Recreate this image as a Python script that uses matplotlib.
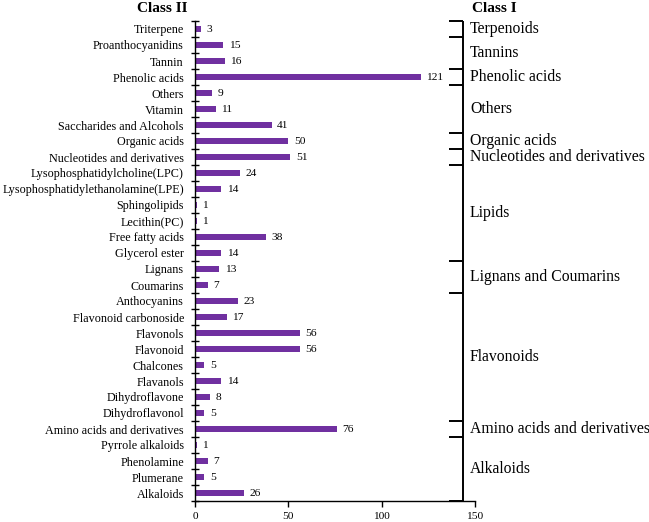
import matplotlib
matplotlib.use("Agg")
import matplotlib.pyplot as plt
import numpy as np

plt.rcParams['font.family'] = ['Liberation Serif', 'DejaVu Serif']

categories = [
    "Triterpene", "Proanthocyanidins", "Tannin", "Phenolic acids", "Others",
    "Vitamin", "Saccharides and Alcohols", "Organic acids",
    "Nucleotides and derivatives", "Lysophosphatidylcholine(LPC)",
    "Lysophosphatidylethanolamine(LPE)", "Sphingolipids", "Lecithin(PC)",
    "Free fatty acids", "Glycerol ester", "Lignans", "Coumarins",
    "Anthocyanins", "Flavonoid carbonoside", "Flavonols", "Flavonoid",
    "Chalcones", "Flavanols", "Dihydroflavone", "Dihydroflavonol",
    "Amino acids and derivatives", "Pyrrole alkaloids", "Phenolamine",
    "Plumerane", "Alkaloids",
]
values = [3, 15, 16, 121, 9, 11, 41, 50, 51, 24, 14, 1, 1, 38, 14, 13, 7,
          23, 17, 56, 56, 5, 14, 8, 5, 76, 1, 7, 5, 26]

group_names = ["Terpenoids", "Tannins", "Phenolic acids", "Others",
               "Organic acids", "Nucleotides and derivatives", "Lipids",
               "Lignans and Coumarins", "Flavonoids",
               "Amino acids and derivatives", "Alkaloids"]
group_sizes = [1, 2, 1, 3, 1, 1, 6, 2, 8, 1, 4]

xticks = [0, 50, 100, 150]

W, H = 649, 522
fig = plt.figure(figsize=(W / 100, H / 100), dpi=100)
ax = fig.add_axes([195 / W, 1 - 501 / H, 280 / W, 480 / H])

n = len(categories)
y = np.arange(n)
color = "#7030A0"
ax.barh(y, values, height=0.42, color=color)
ax.set_ylim(n - 0.5, -0.5)
ax.set_xlim(0, 150)

for yi, v in zip(y, values):
    ax.annotate(str(v), (v, yi), xytext=(4, 0), textcoords="offset points",
                va="center", ha="left", fontsize=8.2)

ax.set_yticks(y)
ax.set_yticklabels(categories, fontsize=8.7)
ax.tick_params(axis="y", which="major", length=0, pad=8)
ax.set_yticks(np.arange(n + 1) - 0.5, minor=True)
ax.tick_params(axis="y", which="minor", direction="inout", length=6, width=1)

ax.set_xticks(xticks)
ax.set_xticklabels([str(t) for t in xticks], fontsize=8.2)
ax.tick_params(axis="x", direction="out", length=4, width=1, pad=4)

for s in ["top", "right"]:
    ax.spines[s].set_visible(False)
for s in ["left", "bottom"]:
    ax.spines[s].set_linewidth(1.0)

# Brackets for Class I
trans = ax.get_yaxis_transform()
xline = 0.957
xtick0 = 0.907
bounds = np.concatenate([[0], np.cumsum(group_sizes)]) - 0.5
ax.plot([xline, xline], [bounds[0], bounds[-1]], transform=trans,
        color="black", lw=1.4, clip_on=False, solid_capstyle="butt")
for b in bounds:
    ax.plot([xtick0, xline], [b, b], transform=trans, color="black",
            lw=1.4, clip_on=False, solid_capstyle="butt")
for name, b0, b1 in zip(group_names, bounds[:-1], bounds[1:]):
    ax.text(0.982, (b0 + b1) / 2, name, transform=trans, ha="left",
            va="center", fontsize=11.3, clip_on=False)

fig.text(162 / W, 1 - 9 / H, "Class II", ha="center", va="center",
         fontsize=11, fontweight="bold")
fig.text(494 / W, 1 - 9 / H, "Class I", ha="center", va="center",
         fontsize=11, fontweight="bold")

fig.savefig("out.png", dpi=100)
